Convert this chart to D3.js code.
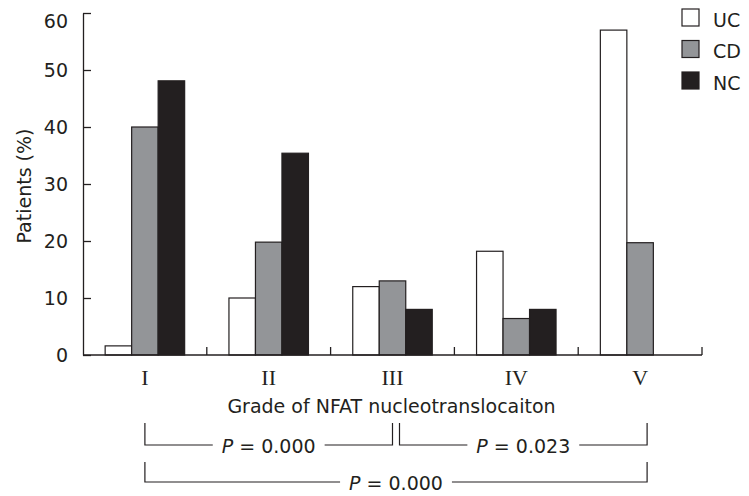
<!DOCTYPE html>
<html>
<head>
<meta charset="utf-8">
<script src="https://cdn.jsdelivr.net/npm/d3@7"></script>
<style>
  body { margin: 0; background: #fff; }
  svg text { font-family: "DejaVu Sans", Verdana, sans-serif; fill: #231f20; }
</style>
</head>
<body>
<svg id="chart" width="749" height="496"></svg>
<script>
// data
var grades = ['I', 'II', 'III', 'IV', 'V'];
var series = ['UC', 'CD', 'NC'];
var uc_vals = [1.6, 10, 12, 18.2, 57];
var cd_vals = [40, 19.8, 13, 6.4, 19.7];
var nc_vals = [48.1, 35.4, 8, 8, null];
var y_ticks = [0, 10, 20, 30, 40, 50, 60];
var bar_colors = ['#ffffff', '#939598', '#231f20'];
// comparisons drawn under the axis
var comparisons = [
  { from: 'I', to: 'III', p: '0.000', row: 0 },
  { from: 'III', to: 'V', p: '0.023', row: 0 },
  { from: 'I', to: 'V', p: '0.000', row: 1 }
];

// layout
var ax_left = 83, ax_right = 702, ax_top = 13, ax_bottom = 355;
var ink = '#231f20';

var svg = d3.select('#chart');

var x_scale = d3.scaleBand().domain(grades).range([ax_left, ax_right]).padding(0);
var bw = x_scale.bandwidth();
var x_inner = d3.scaleBand().domain(series).range([0, bw]).paddingInner(0).paddingOuter(0.836);
var y_scale = d3.scaleLinear().domain([0, 60]).range([ax_bottom, ax_top]);

var vals_by_series = { UC: uc_vals, CD: cd_vals, NC: nc_vals };

// bars
var bar_data = [];
grades.forEach(function(g, i){
  series.forEach(function(s, j){
    var v = vals_by_series[s][i];
    if(v != null) bar_data.push({ grade: g, series: s, value: v, color: bar_colors[j] });
  });
});
svg.append('g').attr('class', 'bars').selectAll('rect').data(bar_data).enter()
  .append('rect')
  .attr('x', function(d){ return x_scale(d.grade) + x_inner(d.series); })
  .attr('y', function(d){ return y_scale(d.value); })
  .attr('width', x_inner.bandwidth())
  .attr('height', function(d){ return ax_bottom - y_scale(d.value); })
  .attr('fill', function(d){ return d.color; })
  .attr('stroke', ink).attr('stroke-width', 1.2);

// y axis (ticks point inward)
var y_axis = d3.axisLeft(y_scale).tickValues(y_ticks).tickSizeInner(-8).tickSizeOuter(0).tickPadding(15);
var y_g = svg.append('g').attr('transform', 'translate(' + ax_left + ',0)').call(y_axis);
y_g.select('.domain').attr('stroke', ink).attr('stroke-width', 1.3);
y_g.selectAll('.tick line').attr('stroke', ink).attr('stroke-width', 1.3);
y_g.selectAll('.tick text').attr('font-size', 19).attr('fill', ink)
  .attr('font-family', '"DejaVu Sans", Verdana, sans-serif');
y_g.selectAll('.tick text').filter(function(d){ return d === 60; }).attr('dy', '0.75em');

// x axis line with boundary ticks
var x_g = svg.append('g');
x_g.append('line').attr('x1', ax_left).attr('x2', ax_right)
  .attr('y1', ax_bottom).attr('y2', ax_bottom)
  .attr('stroke', ink).attr('stroke-width', 1.3);
x_g.selectAll('.bound').data(grades).enter().append('line')
  .attr('class', 'bound')
  .attr('x1', function(d){ return x_scale(d) + bw; })
  .attr('x2', function(d){ return x_scale(d) + bw; })
  .attr('y1', ax_bottom).attr('y2', ax_bottom - 8)
  .attr('stroke', ink).attr('stroke-width', 1.3);
x_g.selectAll('.glabel').data(grades).enter().append('text')
  .attr('class', 'glabel')
  .attr('x', function(d){ return x_scale(d) + bw / 2; })
  .attr('y', 385)
  .attr('text-anchor', 'middle')
  .attr('font-size', 22)
  .style('font-family', '"Liberation Serif", "Times New Roman", serif')
  .text(function(d){ return d; });

// axis titles
svg.append('text').attr('x', (ax_left + ax_right) / 2 - 1).attr('y', 413)
  .attr('text-anchor', 'middle').attr('font-size', 19)
  .text('Grade of NFAT nucleotranslocaiton');
svg.append('text')
  .attr('transform', 'translate(31,' + 186 + ') rotate(-90)')
  .attr('text-anchor', 'middle').attr('font-size', 19)
  .text('Patients (%)');

// legend
var leg = svg.append('g').attr('transform', 'translate(682,9)');
series.forEach(function(s, j){
  var row = leg.append('g').attr('transform', 'translate(0,' + (j * 31.5) + ')');
  row.append('rect').attr('width', 17).attr('height', 17)
    .attr('fill', bar_colors[j]).attr('stroke', ink).attr('stroke-width', 1.2);
  row.append('text').attr('x', 31).attr('y', 17.5).attr('font-size', 19).text(s);
});

// significance brackets
var row_y = [{ top: 423, line: 445, base: 453 }, { top: 462, line: 482, base: 490 }];
comparisons.forEach(function(c){
  var ry = row_y[c.row];
  var x1 = x_scale(c.from) + bw / 2 + (c.from === 'III' ? 7 : 0);
  var x2 = x_scale(c.to) + bw / 2 + (c.to === 'V' ? 7 : 0);
  var g = svg.append('g');
  var txt = g.append('text').attr('x', (x1 + x2) / 2).attr('y', ry.base)
    .attr('text-anchor', 'middle').attr('font-size', 19);
  txt.append('tspan').attr('font-style', 'italic').text('P');
  txt.append('tspan').text(' = ' + c.p);
  var tw = txt.node().getComputedTextLength();
  var gap = 9;
  var cx = (x1 + x2) / 2;
  g.append('path')
    .attr('d', 'M' + x1 + ',' + ry.top + 'V' + ry.line + 'H' + (cx - tw / 2 - gap))
    .attr('fill', 'none').attr('stroke', ink).attr('stroke-width', 1.2);
  g.append('path')
    .attr('d', 'M' + (cx + tw / 2 + gap) + ',' + ry.line + 'H' + x2 + 'V' + ry.top)
    .attr('fill', 'none').attr('stroke', ink).attr('stroke-width', 1.2);
});
</script>
</body>
</html>
